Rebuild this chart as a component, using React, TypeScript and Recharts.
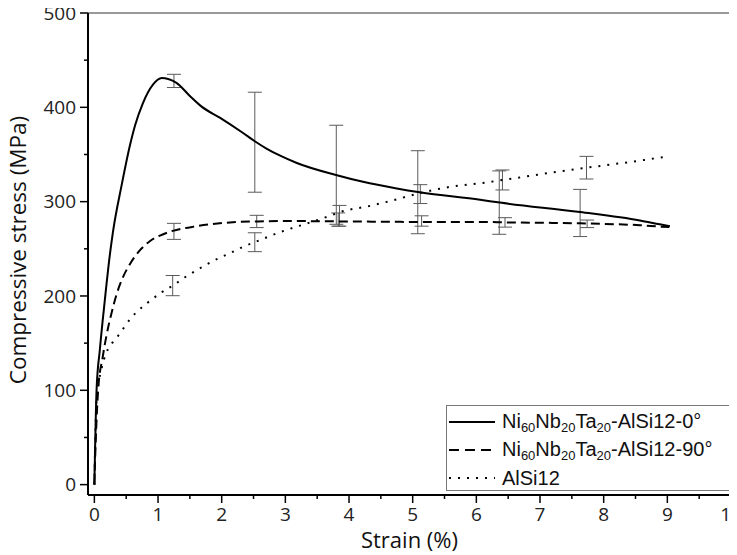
import {
  ComposedChart,
  Line,
  Scatter,
  ErrorBar,
  XAxis,
  YAxis,
  Legend,
  ReferenceLine,
} from "recharts";

// Ni60Nb20Ta20-AlSi12, 0° orientation
const strain0 = [0, 0.035, 0.086, 0.165, 0.244, 0.29, 0.43, 0.56, 0.64, 0.76, 0.92, 1.06, 1.16, 1.29, 1.5, 1.68, 1.97, 2.33, 2.52, 2.71, 2.91, 3.18, 3.81, 4.22, 4.75, 5.11, 6.06, 6.37, 7.63, 8.57, 8.88, 9.04];
const stress0 = [0, 101, 143, 196, 244, 267, 318, 360, 381, 404, 424, 431, 430, 426, 412, 401, 389, 373, 364, 356, 349, 341, 328, 321, 314, 310, 302, 299, 289, 280, 276, 274];

// Ni60Nb20Ta20-AlSi12, 90° orientation
const strain90 = [0, 0.01, 0.06, 0.13, 0.19, 0.27, 0.35, 0.45, 0.56, 0.71, 0.87, 1.03, 1.23, 1.61, 2.13, 2.55, 2.91, 4.0, 5.1, 6.06, 6.5, 7.63, 8.57, 8.9, 9.03];
const stress90 = [0, 23, 101, 135, 158, 182, 202, 220, 234, 248, 258, 264, 269, 274, 278, 279, 279.5, 279, 278.5, 278.5, 278, 277, 275, 273.5, 273];

// AlSi12 reference
const strainAl = [0, 0.035, 0.11, 0.19, 0.29, 0.4, 0.48, 0.58, 0.68, 0.82, 1.06, 1.23, 1.45, 1.61, 1.86, 2.15, 2.33, 2.52, 2.91, 3.39, 3.7, 3.86, 4.33, 4.75, 5.11, 5.53, 6.06, 6.42, 7.36, 7.73, 8.41, 8.96];
const stressAl = [0, 90, 122, 140, 151, 160, 168, 177, 184, 192, 204, 211, 221, 227.5, 237, 246, 252, 257, 267.5, 278, 285, 289, 295.5, 302.5, 309, 315, 319.5, 323, 332.6, 336, 342, 347.5];

// repeated tests: mean and deviation
const err0X = [1.25, 2.52, 3.8, 5.08, 6.36, 7.63];
const err0Y = [428, 363, 328.5, 310, 299, 288];
const err0D = [7, 53, 52.5, 44, 33.6, 25];

const err90X = [1.25, 2.55, 3.83, 5.14, 6.45, 7.74];
const err90Y = [268.5, 279, 281, 279.5, 278, 276.5];
const err90D = [8.5, 6.5, 7, 5.5, 5, 4];

const errAlX = [1.23, 2.52, 3.85, 5.12, 6.41, 7.73];
const errAlY = [211, 257, 285, 308, 323, 336];
const errAlD = [10.7, 10, 11, 10, 10.6, 12];

const xTicks = [0, 0.5, 1, 1.5, 2, 2.5, 3, 3.5, 4, 4.5, 5, 5.5, 6, 6.5, 7, 7.5, 8, 8.5, 9, 9.5, 10];
const yTicks = [0, 50, 100, 150, 200, 250, 300, 350, 400, 450, 500];

const legendRows = [
  { parts: [["Ni", "60"], ["Nb", "20"], ["Ta", "20"], ["-AlSi12-0°", ""]], dash: undefined },
  { parts: [["Ni", "60"], ["Nb", "20"], ["Ta", "20"], ["-AlSi12-90°", ""]], dash: "10 6" },
  { parts: [["AlSi12", ""]], dash: "2 7" },
];

const toPoints = (xs: number[], ys: number[]) => xs.map((x, i) => ({ x, y: ys[i] }));
const toErrors = (xs: number[], ys: number[], ds: number[]) =>
  xs.map((x, i) => ({ x, y: ys[i], err: ds[i] }));

const curve0 = toPoints(strain0, stress0);
const curve90 = toPoints(strain90, stress90);
const curveAl = toPoints(strainAl, stressAl);

const tickFont = { fontFamily: "'Open Sans', sans-serif", fontSize: 19, fill: "#222" };

const XTick = ({ x, y, payload }: any) => {
  const major = Number.isInteger(payload.value);
  return (
    <g>
      <line x1={x} y1={y} x2={x} y2={y + (major ? 8 : 4)} stroke="#000" strokeWidth={1.5} />
      {major && (
        <text x={x} y={y + 26} textAnchor="middle" {...tickFont}>
          {payload.value}
        </text>
      )}
    </g>
  );
};

const YTick = ({ x, y, payload }: any) => {
  const major = payload.value % 100 === 0;
  return (
    <g>
      <line x1={x} y1={y} x2={x - (major ? 8 : 4)} y2={y} stroke="#000" strokeWidth={1.5} />
      {major && (
        <text x={x - 12} y={y} dy="0.35em" textAnchor="end" {...tickFont}>
          {payload.value}
        </text>
      )}
    </g>
  );
};

const YTitle = ({ viewBox }: any) => (
  <text
    transform={`translate(17, ${viewBox.y + viewBox.height / 2 - 4}) rotate(-90)`}
    textAnchor="middle"
    dominantBaseline="central"
    fontFamily="'Open Sans', sans-serif"
    fontSize={22.5}
    fill="#111"
  >
    Compressive stress (MPa)
  </text>
);

const XTitle = ({ viewBox }: any) => (
  <text
    x={viewBox.x + viewBox.width / 2}
    y={viewBox.y + 53}
    textAnchor="middle"
    fontFamily="'Open Sans', sans-serif"
    fontSize={22}
    fill="#111"
  >
    Strain (%)
  </text>
);

const LegendBox = () => (
  <div
    style={{
      border: "1px solid #777",
      background: "#fff",
      padding: "2px 0 4px 1px",
      fontFamily: "'Liberation Sans', Arial, sans-serif",
      fontSize: 20,
      color: "#111",
      boxSizing: "border-box",
      width: 284,
      height: 86,
    }}
  >
    {legendRows.map((row, i) => (
      <div key={i} style={{ display: "flex", alignItems: "center", height: 28 }}>
        <svg width={48} height={10} style={{ marginRight: 6 }}>
          <line x1={1} y1={5} x2={47} y2={5} stroke="#000" strokeWidth={2} strokeDasharray={row.dash} />
        </svg>
        <span style={{ whiteSpace: "nowrap" }}>
          {row.parts.map(([main, sub], j) => (
            <span key={j}>
              {main}
              {sub && <sub style={{ fontSize: 13, verticalAlign: "-4px" }}>{sub}</sub>}
            </span>
          ))}
        </span>
      </div>
    ))}
  </div>
);

const noMarker = () => <g />;

export default function App() {
  return (
    <div style={{ margin: "-8px 0 0 -8px" }}>
      <ComposedChart width={737} height={555} margin={{ top: 13, right: 6, left: 0, bottom: 0 }}>
        <XAxis
          dataKey="x"
          type="number"
          domain={[-0.1, 10]}
          ticks={xTicks}
          interval={0}
          height={60}
          tickSize={0}
          tickMargin={0}
          tickLine={false}
          tick={<XTick />}
          axisLine={{ stroke: "#000", strokeWidth: 2 }}
          allowDataOverflow
          label={<XTitle />}
        />
        <YAxis
          type="number"
          domain={[-11, 500]}
          ticks={yTicks}
          interval={0}
          width={88}
          tickSize={0}
          tickMargin={0}
          tickLine={false}
          tick={<YTick />}
          axisLine={{ stroke: "#000", strokeWidth: 2 }}
          allowDataOverflow
          label={<YTitle />}
        />
        <ReferenceLine y={500} stroke="#777" strokeWidth={1.5} />
        <ReferenceLine x={10} stroke="#000" strokeWidth={2.5} />

        <Scatter data={toErrors(err0X, err0Y, err0D)} dataKey="y" shape={noMarker} legendType="none" isAnimationActive={false}>
          <ErrorBar dataKey="err" direction="y" width={7} stroke="#5a5a5a" strokeWidth={1} isAnimationActive={false} />
        </Scatter>
        <Scatter data={toErrors(err90X, err90Y, err90D)} dataKey="y" shape={noMarker} legendType="none" isAnimationActive={false}>
          <ErrorBar dataKey="err" direction="y" width={7} stroke="#5a5a5a" strokeWidth={1} isAnimationActive={false} />
        </Scatter>
        <Scatter data={toErrors(errAlX, errAlY, errAlD)} dataKey="y" shape={noMarker} legendType="none" isAnimationActive={false}>
          <ErrorBar dataKey="err" direction="y" width={7} stroke="#5a5a5a" strokeWidth={1} isAnimationActive={false} />
        </Scatter>

        <Line data={curve0} dataKey="y" type="monotone" stroke="#000" strokeWidth={2} dot={false} isAnimationActive={false} />
        <Line data={curve90} dataKey="y" type="monotone" stroke="#000" strokeWidth={2} strokeDasharray="9 5" dot={false} isAnimationActive={false} />
        <Line data={curveAl} dataKey="y" type="monotone" stroke="#000" strokeWidth={2} strokeDasharray="2 7" dot={false} isAnimationActive={false} />

        <Legend
          layout="horizontal"
          verticalAlign="middle"
          align="center"
          content={<LegendBox />}
          wrapperStyle={{ left: 446, top: 405, width: 284, height: 86 }}
        />
      </ComposedChart>
    </div>
  );
}
